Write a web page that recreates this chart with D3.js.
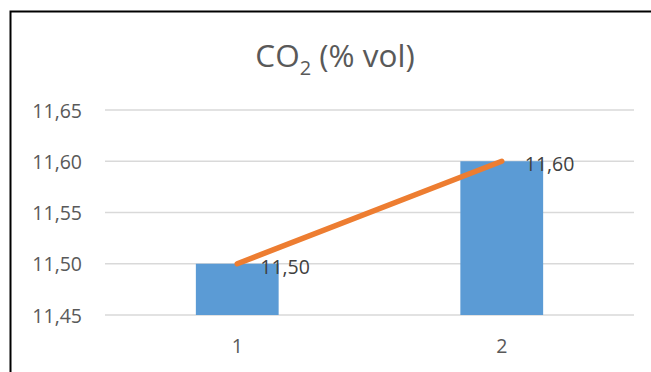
<!DOCTYPE html>
<html><head><meta charset="utf-8">
<script src="https://cdn.jsdelivr.net/npm/d3@7"></script>
<style>body{margin:0;background:#fff;}svg{display:block;}</style>
</head><body>
<script>
const categories = ["1", "2"];
const barValues = [11.50, 11.60];
const lineValues = [11.50, 11.60];
const dataLabels = ["11,50", "11,60"];
const yTicks = [11.45, 11.50, 11.55, 11.60, 11.65];
const yTickLabels = ["11,45", "11,50", "11,55", "11,60", "11,65"];

const W = 651, H = 372;
const font = "'Open Sans', sans-serif";
const svg = d3.select("body").append("svg").attr("width", W).attr("height", H);

// chart border
svg.append("rect").attr("x", 10.5).attr("y", 11.5).attr("width", W).attr("height", H)
  .attr("fill", "none").attr("stroke", "#000").attr("stroke-width", 2);

const plot = {left: 105, right: 634, top: 110, bottom: 315};
const x = d3.scaleBand().domain(categories).range([plot.left, plot.right]).paddingInner(0.687).paddingOuter(0.3435);
const y = d3.scaleLinear().domain([11.45, 11.65]).range([plot.bottom, plot.top]);

// gridlines
svg.append("g").selectAll("line").data(yTicks).join("line")
  .attr("x1", plot.left).attr("x2", plot.right)
  .attr("y1", d => y(d)).attr("y2", d => y(d))
  .attr("stroke", "#d9d9d9").attr("stroke-width", 1.5);

// y axis labels
const yAxis = d3.axisLeft(y).tickValues(yTicks).tickFormat((d, i) => yTickLabels[i]).tickSize(0).tickPadding(0);
const yg = svg.append("g").attr("transform", `translate(82,0)`).call(yAxis);
yg.select(".domain").remove();
yg.selectAll("text").attr("font-family", font).attr("font-size", 19.5).attr("fill", "#595959").attr("dy", "0.36em");

// x axis labels
const xAxis = d3.axisBottom(x).tickSize(0).tickPadding(0);
const xg = svg.append("g").attr("transform", `translate(0,353)`).call(xAxis);
xg.select(".domain").remove();
xg.selectAll("text").attr("font-family", font).attr("font-size", 19.5).attr("fill", "#595959").attr("dy", 0);

// bars
svg.append("g").selectAll("rect").data(barValues).join("rect")
  .attr("x", (d, i) => x(categories[i]))
  .attr("width", x.bandwidth())
  .attr("y", d => y(d))
  .attr("height", d => y(11.45) - y(d))
  .attr("fill", "#5b9bd5");

// line
const line = d3.line().x((d, i) => x(categories[i]) + x.bandwidth() / 2).y(d => y(d));
svg.append("path").datum(lineValues).attr("d", line)
  .attr("fill", "none").attr("stroke", "#ed7d31").attr("stroke-width", 5.5).attr("stroke-linecap", "round");

// data labels
svg.append("g").selectAll("text").data(lineValues).join("text")
  .attr("x", (d, i) => x(categories[i]) + x.bandwidth() / 2 + 23)
  .attr("y", d => y(d) + 10)
  .attr("font-family", font).attr("font-size", 19.5).attr("fill", "#404040")
  .text((d, i) => dataLabels[i]);

// title
const t = svg.append("text").attr("x", 335).attr("y", 67).attr("text-anchor", "middle")
  .attr("font-family", font).attr("font-size", 31.5).attr("fill", "#595959");
t.append("tspan").text("CO");
t.append("tspan").attr("font-size", 20).attr("dy", 8).text("2");
t.append("tspan").attr("dy", -8).text(" (% vol)");
</script>
</body></html>
